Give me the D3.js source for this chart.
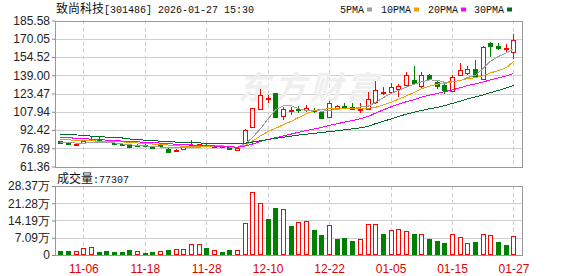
<!DOCTYPE html>
<html>
<head>
<meta charset="utf-8">
<script src="https://cdn.jsdelivr.net/npm/d3@7"></script>
<style>
  body { margin: 0; background: #fff; }
  svg { display: block; }
</style>
</head>
<body>
<div id="chart"></div>
<script>
// ---------- data ----------
const dates = ["11-03","11-04","11-05","11-06","11-07","11-10","11-11","11-12","11-13","11-14",
  "11-17","11-18","11-19","11-20","11-21","11-24","11-25","11-26","11-27","11-28",
  "12-01","12-02","12-03","12-04","12-05","12-08","12-09","12-10","12-11","12-12",
  "12-15","12-16","12-17","12-18","12-19","12-22","12-23","12-24","12-25","12-26",
  "12-29","12-30","12-31","01-05","01-06","01-07","01-08","01-09","01-12","01-13",
  "01-14","01-15","01-16","01-19","01-20","01-21","01-22","01-23","01-26","01-27"];

const opens = [83.0,82.2,79.9,81.6,83.6,85.0,83.2,81.6,80.5,79.9,
  79.6,79.8,78.5,79.5,76.5,74.3,76.5,79.2,79.6,79.8,
  78.2,78.8,77.9,75.8,81.0,95.2,110.0,118.9,123.5,104.3,
  108.3,110.0,109.4,109.4,108.0,103.7,110.8,113.0,112.2,109.4,
  110.5,116.2,124.5,124.7,127.5,130.9,134.6,129.5,138.8,133.1,
  130.3,125.5,139.4,141.1,144.5,136.0,166.3,164.3,161.5,158.6];

const closes = [81.3,80.2,80.5,83.3,85.0,84.2,82.7,80.5,79.9,78.2,
  79.0,78.8,77.4,79.3,74.0,75.7,77.7,79.9,80.5,78.4,
  78.8,78.0,76.6,76.9,92.3,110.8,122.1,119.3,103.7,110.0,
  109.4,109.7,110.8,108.8,102.3,115.0,112.8,112.4,110.0,110.5,
  118.4,126.1,125.0,128.9,129.5,138.8,132.3,139.4,135.4,129.8,
  126.1,137.4,143.6,144.2,137.4,162.9,163.7,162.3,161.9,168.6];

const highs = [83.4,82.5,80.7,83.6,87.0,86.4,83.6,82.2,81.0,80.2,
  80.2,80.2,78.8,80.5,76.8,76.0,78.0,83.6,80.8,80.2,
  79.4,79.2,78.2,77.2,93.0,111.4,126.9,122.1,124.1,112.2,
  112.2,112.8,113.6,110.8,108.3,117.3,113.6,115.6,115.6,115.6,
  125.0,133.7,128.9,132.3,131.7,141.6,146.8,141.6,140.2,135.1,
  131.7,139.4,149.6,146.8,151.6,163.7,167.1,166.6,165.7,174.2];

const lows = [80.2,79.4,78.5,81.3,83.3,83.6,82.4,79.9,79.4,77.9,
  77.6,78.4,77.0,78.2,72.6,74.0,76.2,78.0,79.3,78.0,
  77.6,77.6,76.2,75.2,80.6,94.5,109.4,115.6,103.5,100.9,
  105.1,107.1,108.0,106.5,101.4,102.6,109.7,112.0,109.4,106.5,
  109.4,114.8,122.4,123.2,120.4,129.8,131.7,127.5,134.6,127.5,
  123.2,124.7,138.3,138.8,136.6,135.4,154.4,160.1,159.2,153.0];

const prevClose = 82.4; // close of the day before the first bar

// volume in 万 (10k shares)
const volumes = [1.64,1.64,1.50,2.73,3.14,1.23,1.64,1.23,1.23,2.05,
  1.50,0.82,1.23,1.50,2.05,2.32,2.32,4.37,4.37,2.87,
  1.91,1.23,2.05,1.91,12.98,25.97,21.18,14.62,19.13,18.72,
  11.89,13.39,13.80,10.25,8.20,12.16,6.56,6.97,5.74,6.42,
  12.57,12.57,8.61,10.11,10.52,9.70,8.61,8.47,6.56,5.74,
  4.92,8.47,7.24,4.78,5.33,8.47,8.06,5.33,4.10,7.73];

const ma5 = [82.0,81.6,81.3,81.3,81.5,82.0,81.8,81.4,80.6,79.8,
  79.3,78.9,78.3,77.9,77.6,77.4,77.2,77.3,77.8,78.6,
  79.3,78.9,78.3,77.8,81.0,86.0,93.5,102.5,109.6,113.2,
  112.9,110.5,109.0,109.4,108.3,109.2,110.0,110.7,110.5,112.0,
  112.8,115.8,120.0,123.8,126.0,129.0,131.5,133.5,135.0,134.8,
  133.0,133.6,134.5,137.0,139.0,145.0,151.0,155.0,158.0,161.5];

const ma10 = [84.3,84.0,83.6,83.3,83.1,83.0,82.9,82.6,82.3,81.9,
  81.4,80.9,80.5,80.2,79.6,79.0,78.6,78.5,78.5,78.6,
  78.5,78.2,77.9,77.8,79.5,83.0,87.4,91.4,93.8,97.0,
  100.0,103.0,106.3,109.0,110.0,110.5,110.3,110.4,110.6,110.6,
  110.9,111.7,113.8,116.2,118.6,121.5,124.5,127.5,129.8,131.5,
  132.0,133.3,134.7,136.0,137.0,138.6,141.0,143.0,145.5,150.7];

const ma20 = [85.9,85.8,85.4,85.0,84.6,84.2,83.8,83.4,83.0,82.6,
  82.3,82.0,81.6,81.3,80.8,80.3,80.0,79.7,79.4,79.1,
  78.8,78.5,78.1,77.8,78.9,80.5,82.6,84.5,85.8,87.5,
  89.0,90.5,92.0,93.4,94.6,96.4,97.8,99.1,100.4,102.0,
  104.0,106.8,109.6,112.3,114.4,116.5,118.3,120.3,122.0,123.6,
  125.0,126.6,128.4,130.2,131.7,133.4,135.0,136.7,138.4,140.4];

const ma30 = [89.0,88.8,88.2,87.9,87.2,86.7,86.4,86.0,85.6,84.8,
  84.3,83.7,83.3,82.9,82.5,82.1,81.9,81.6,81.4,81.2,
  81.1,81.0,80.9,80.8,81.3,82.2,83.3,84.4,85.3,86.3,
  87.2,88.1,88.9,89.6,90.3,91.0,91.8,92.6,93.4,94.3,
  95.6,97.8,99.9,101.9,103.9,105.9,107.6,109.0,110.5,111.7,
  113.2,115.0,117.0,118.9,120.6,122.3,124.2,126.1,128.2,130.3];

const priceTicks = [61.36,76.89,92.42,107.94,123.47,139.00,154.52,170.05,185.58];
const volTicks = [0,7.09,14.19,21.28,28.37];
const dateTicks = ["11-06","11-18","11-28","12-10","12-22","01-05","01-15","01-27"];

const title = "致尚科技";
const titleRest = "[301486] 2026-01-27 15:30";
const lastVolume = 77307;
const maNames = ["5PMA","10PMA","20PMA","30PMA"];

// ---------- measurements ----------
const width = 578, height = 276;
const plot = { left: 55, right: 522, priceTop: 20.5, priceBottom: 166.5, volTop: 186, volBottom: 255 };
const RED = "#ff0000", GREEN = "#008000";
const maColors = ["#a0a0a0", "#f0a000", "#ff00ff", "#006b2a"];
const numFont = "'Liberation Sans', Arial, sans-serif";
const monoFont = "'Liberation Mono', 'DejaVu Sans Mono', monospace";
const cjkFont = "'Noto Sans CJK SC', sans-serif";

const svg = d3.select("#chart").append("svg")
  .attr("width", width).attr("height", height);

// ---------- scales ----------
const x = d3.scaleBand().domain(dates).range([56.5, 517.3]);
const cx = d => Math.round(x(d) + x.bandwidth() / 2);

const y = d3.scaleLinear()
  .domain([priceTicks[0], priceTicks[priceTicks.length - 1]])
  .range([plot.priceBottom, plot.priceTop]);

const yv = d3.scaleLinear()
  .domain([0, volTicks[volTicks.length - 1]])
  .range([plot.volBottom, plot.volTop]);

// ---------- grids ----------
function panelGrid(top, bottom, ticks, scale) {
  const g = svg.append("g");
  g.selectAll("line.h").data(ticks.slice(1, -1)).join("line")
    .attr("x1", plot.left).attr("x2", plot.right)
    .attr("y1", d => Math.round(scale(d)) + 0.5).attr("y2", d => Math.round(scale(d)) + 0.5)
    .attr("stroke", "#cfcfcf");
  g.selectAll("line.v").data(dateTicks).join("line")
    .attr("x1", d => cx(d) + 0.5).attr("x2", d => cx(d) + 0.5)
    .attr("y1", top).attr("y2", bottom)
    .attr("stroke", "#cfcfcf").attr("stroke-dasharray", "4,3");
}
panelGrid(plot.priceTop, plot.priceBottom, priceTicks, y);
panelGrid(plot.volTop, plot.volBottom, volTicks, yv);

// watermark
svg.append("text")
  .attr("x", 238).attr("y", 99)
  .attr("font-family", cjkFont).attr("font-size", 32).attr("font-weight", 700)
  .attr("font-style", "italic").attr("letter-spacing", 4)
  .attr("fill", "#efefef")
  .text("东方财富");

// ---------- axes ----------
const yAxis = svg.append("g")
  .attr("transform", `translate(${plot.left},0)`)
  .call(d3.axisLeft(y).tickValues(priceTicks).tickSize(3).tickPadding(2).tickFormat(d => d.toFixed(2)));
const yvAxis = svg.append("g")
  .attr("transform", `translate(${plot.left},0)`)
  .call(d3.axisLeft(yv).tickValues(volTicks).tickSize(3).tickPadding(2)
    .tickFormat(d => d === 0 ? "0" : d.toFixed(2) + "万"));
[yAxis, yvAxis].forEach(a => {
  a.select(".domain").remove();
  a.selectAll("line").attr("stroke", "#888");
  a.selectAll("text").attr("font-family", numFont).attr("font-size", 12).attr("fill", "#222");
});

const xAxis = svg.append("g")
  .attr("transform", `translate(0.5,${plot.volBottom})`)
  .call(d3.axisBottom(x).tickValues(dateTicks).tickSize(0).tickPadding(9));
xAxis.select(".domain").remove();
xAxis.selectAll("text").attr("font-family", numFont).attr("font-size", 12).attr("fill", "#e00000");

// ---------- candles ----------
const candles = svg.append("g");
dates.forEach((d, i) => {
  const up = closes[i] >= opens[i];
  const col = up ? RED : GREEN;
  const px = cx(d);
  candles.append("line")
    .attr("x1", px + 0.5).attr("x2", px + 0.5)
    .attr("y1", Math.round(y(highs[i]))).attr("y2", Math.round(y(lows[i])))
    .attr("stroke", col);
  const top = Math.round(y(Math.max(opens[i], closes[i])));
  const bot = Math.round(y(Math.min(opens[i], closes[i])));
  candles.append("rect")
    .attr("x", px - 1.5).attr("width", 4)
    .attr("y", top + 0.5).attr("height", Math.max(1, bot - top))
    .attr("fill", up ? "#fff" : col).attr("stroke", col);
});

// ---------- moving averages ----------
[ma5, ma10, ma20, ma30].forEach((arr, k) => {
  svg.append("path")
    .datum(arr)
    .attr("d", d3.line().x((v, i) => cx(dates[i]) + 0.5).y(v => y(v)))
    .attr("fill", "none").attr("stroke", maColors[k]).attr("stroke-width", 1)
    .attr("shape-rendering", "crispEdges");
});

// ---------- volume ----------
const vols = svg.append("g");
dates.forEach((d, i) => {
  const ref = i === 0 ? prevClose : closes[i - 1];
  const up = closes[i] >= ref;
  const col = up ? RED : GREEN;
  const px = cx(d);
  const top = Math.round(yv(volumes[i]));
  vols.append("rect")
    .attr("x", px - 1.5).attr("width", 4)
    .attr("y", top + 0.5).attr("height", Math.max(1, plot.volBottom - top - 1))
    .attr("fill", up ? "#fff" : col).attr("stroke", col);
});

// ---------- borders ----------
[[plot.priceTop, plot.priceBottom], [plot.volTop, plot.volBottom]].forEach(([t, b]) => {
  svg.append("rect")
    .attr("x", plot.left + 0.5).attr("y", Math.round(t) + 0.5)
    .attr("width", plot.right - plot.left).attr("height", Math.round(b) - Math.round(t))
    .attr("fill", "none").attr("stroke", "#999");
});

// ---------- texts ----------
const t = svg.append("text").attr("x", 56).attr("y", 13).attr("fill", "#111");
t.append("tspan").attr("font-family", cjkFont).attr("font-size", 12).text(title);
t.append("tspan").attr("font-family", monoFont).attr("font-size", 10).text(titleRest);

const legendX = [340, 381, 428, 474];
maNames.forEach((name, k) => {
  const txt = svg.append("text")
    .attr("x", legendX[k]).attr("y", 13)
    .attr("font-family", monoFont).attr("font-size", 10).attr("fill", "#111")
    .text(name);
  const w = txt.node().getComputedTextLength();
  svg.append("rect")
    .attr("x", legendX[k] + w + 3).attr("y", 7.5)
    .attr("width", 5).attr("height", 4)
    .attr("fill", maColors[k]);
});

const vt = svg.append("text").attr("x", 57).attr("y", 183).attr("fill", "#111");
vt.append("tspan").attr("font-family", cjkFont).attr("font-size", 12).text("成交量");
vt.append("tspan").attr("font-family", monoFont).attr("font-size", 10).text(":" + lastVolume);
</script>
</body>
</html>
